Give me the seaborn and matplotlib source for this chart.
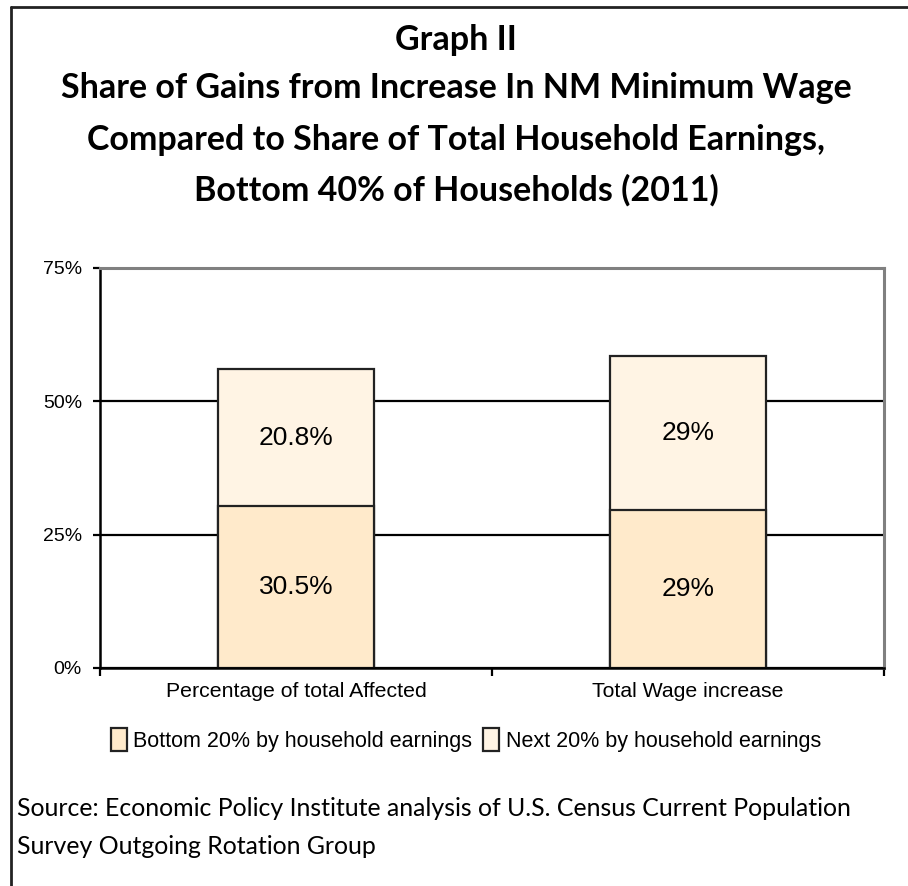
import seaborn as sns
import pandas as pd
import matplotlib.pyplot as plt
from matplotlib.lines import Line2D
from matplotlib.ticker import FixedLocator, FuncFormatter

# values (bar heights in %), labels as printed on the bars
categories = ["Percentage of total Affected", "Total Wage increase"]
bottom_20 = [30.4, 29.6]
next_20 = [25.6, 28.9]
bottom_labels = ["30.5%", "29%"]
next_labels = ["20.8%", "29%"]
series_names = ["Bottom 20% by household earnings", "Next 20% by household earnings"]
y_ticks = [0, 25, 50, 75]

title_lines = ["Graph II",
               "Share of Gains from Increase In NM Minimum Wage",
               "Compared to Share of Total Household Earnings,",
               "Bottom 40% of Households (2011)"]
source_lines = ["Source: Economic Policy Institute analysis of U.S. Census Current Population",
                "Survey Outgoing Rotation Group"]

df = pd.DataFrame({"cat": categories, "bottom": bottom_20, "next": next_20})
df["total"] = df["bottom"] + df["next"]

c_bottom = "#FFEACB"
c_next = "#FFF4E4"
edge = "#222222"

sns.set_style("white")
plt.rcParams["font.family"] = ["Liberation Sans", "DejaVu Sans"]
plt.rcParams["text.color"] = "black"
plt.rcParams["xtick.color"] = "black"
plt.rcParams["ytick.color"] = "black"

fig = plt.figure(figsize=(9.08, 8.86), dpi=100)
ax = fig.add_axes([100 / 908, 1 - 668 / 886, 784 / 908, 400 / 886])

sns.barplot(data=df, x="cat", y="total", color=c_next, width=0.4, saturation=1,
            edgecolor=edge, linewidth=1.6, label=series_names[1], ax=ax)
sns.barplot(data=df, x="cat", y="bottom", color=c_bottom, width=0.4, saturation=1,
            edgecolor=edge, linewidth=1.6, label=series_names[0], ax=ax)
if ax.get_legend() is not None:
    ax.get_legend().remove()

# segment labels
for i, row in df.iterrows():
    ax.text(i, row["bottom"] / 2, bottom_labels[i], ha="center", va="center", fontsize=19)
    ax.text(i, row["bottom"] + row["next"] / 2, next_labels[i], ha="center", va="center", fontsize=19)

ax.set_xlim(-0.5, 1.5)
ax.set_ylim(0, 75)
ax.yaxis.set_major_locator(FixedLocator(y_ticks))
ax.yaxis.set_major_formatter(FuncFormatter(lambda v, p: f"{v:.0f}%"))
ax.set_xlabel("")
ax.set_ylabel("")

ax.set_axisbelow(True)
ax.yaxis.grid(True, color="black", linewidth=1.6)
ax.xaxis.grid(False)

for s in ["top", "right"]:
    ax.spines[s].set_color("#808080")
    ax.spines[s].set_linewidth(2.2)
for s in ["left", "bottom"]:
    ax.spines[s].set_color("black")
    ax.spines[s].set_linewidth(1.8)

ax.tick_params(axis="y", left=True, direction="out", length=5, width=1.6,
               color="black", labelsize=14, pad=8)
ax.tick_params(axis="x", which="major", bottom=True, length=0, labelsize=15.3, pad=10)
ax.xaxis.set_minor_locator(FixedLocator([-0.5, 0.5, 1.5]))
ax.tick_params(axis="x", which="minor", bottom=True, direction="out", length=6,
               width=1.6, color="black")

# legend below the plot, bottom series first
h, l = ax.get_legend_handles_labels()
order = [l.index(n) for n in series_names]
fig.legend([h[k] for k in order], [l[k] for k in order], loc="center",
           bbox_to_anchor=(466 / 908, 1 - 740 / 886), ncol=2, frameon=False,
           fontsize=15.5, handlelength=0.75, handleheight=1.25, handletextpad=0.3,
           columnspacing=0.5)

# title and source
title_y = [40, 88, 140, 190]
for txt, yy in zip(title_lines, title_y):
    fig.text(456 / 908, 1 - yy / 886, txt, ha="center", va="center",
             fontsize=24.5, fontweight="bold", family=["Lato", "DejaVu Sans"])
for txt, yy in zip(source_lines, [808, 846]):
    fig.text(17 / 908, 1 - yy / 886, txt, ha="left", va="center",
             fontsize=17.9, family=["Lato", "DejaVu Sans"])

# outer frame
fig.add_artist(Line2D([11 / 908, 1], [1 - 7 / 886, 1 - 7 / 886], transform=fig.transFigure,
                      color="#222222", linewidth=2))
fig.add_artist(Line2D([11 / 908, 11 / 908], [0, 1 - 7 / 886], transform=fig.transFigure,
                      color="#222222", linewidth=2))

fig.savefig("out.png", dpi=100)
